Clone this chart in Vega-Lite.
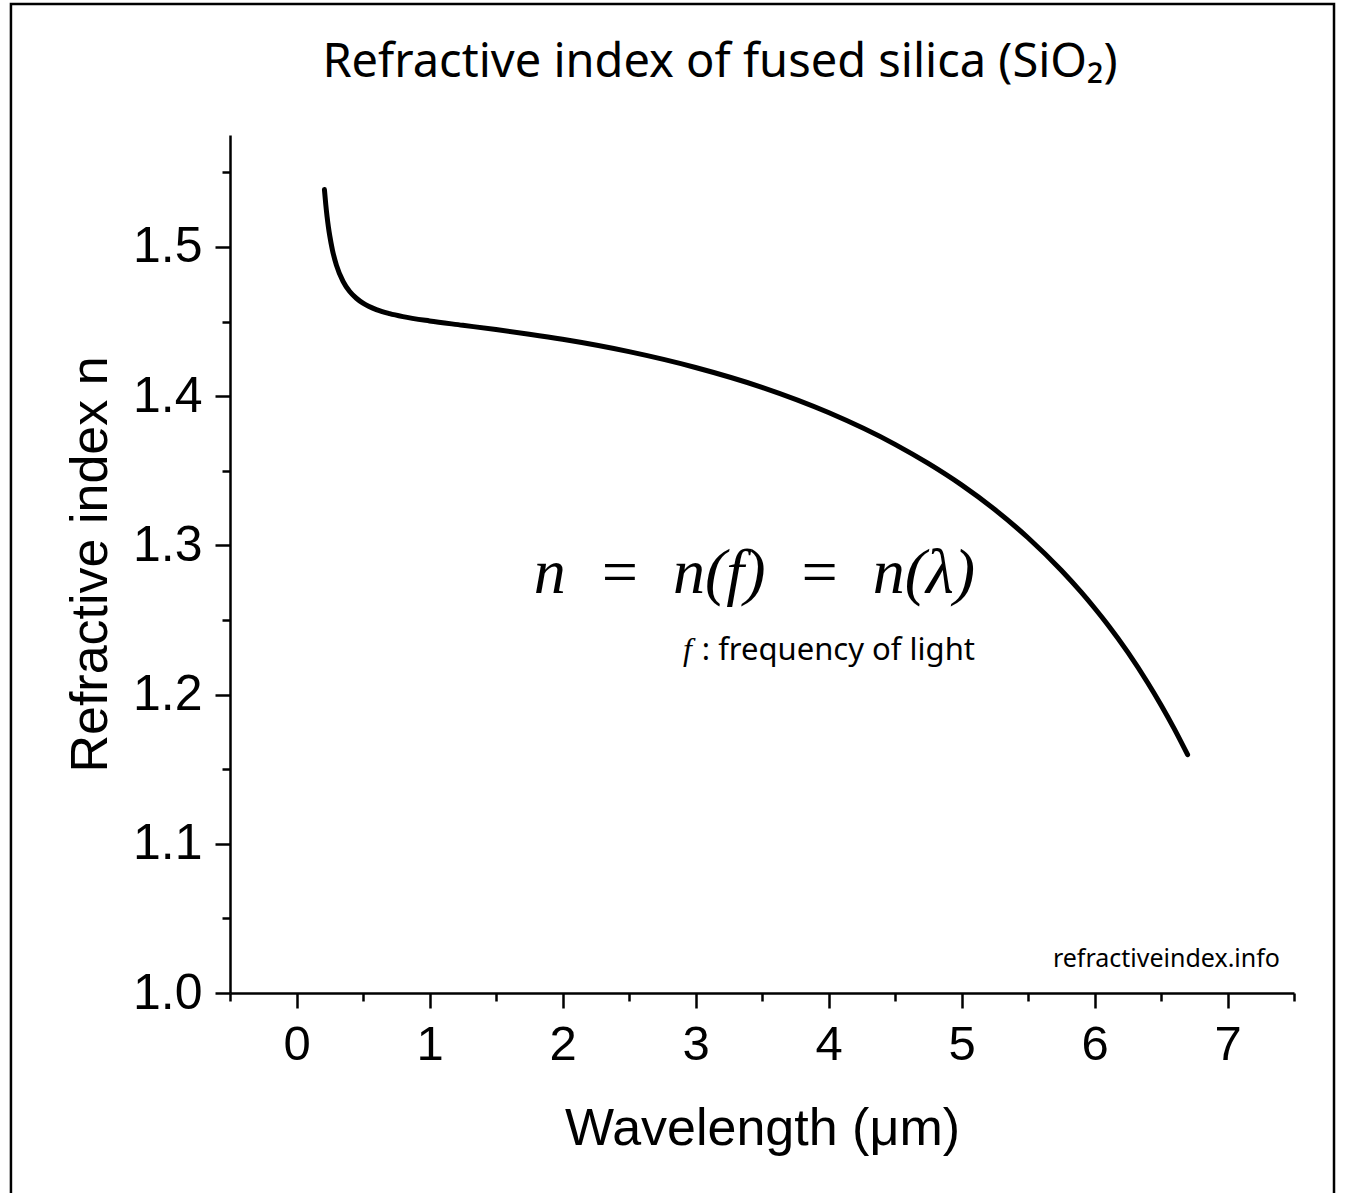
{
  "$schema": "https://vega.github.io/schema/vega-lite/v6.json",
  "width": 1064,
  "height": 858,
  "autosize": {"type": "none"},
  "padding": {"left": 230, "top": 135, "right": 51, "bottom": 200},
  "background": "white",
  "config": {"view": {"stroke": null}},
  "title": {
    "text": "Refractive index of fused silica (SiO₂)",
    "font": "Noto Sans",
    "fontSize": 47,
    "fontWeight": "normal",
    "color": "black",
    "anchor": "middle",
    "dx": -42,
    "offset": -121,
    "baseline": "alphabetic"
  },
  "datasets": {
    "curve": [
      {"wavelength": 0.21, "n": 1.5384},
      {"wavelength": 0.22, "n": 1.5285},
      {"wavelength": 0.23, "n": 1.5202},
      {"wavelength": 0.24, "n": 1.5133},
      {"wavelength": 0.25, "n": 1.5075},
      {"wavelength": 0.27, "n": 1.4980},
      {"wavelength": 0.30, "n": 1.4878},
      {"wavelength": 0.35, "n": 1.4769},
      {"wavelength": 0.40, "n": 1.4701},
      {"wavelength": 0.45, "n": 1.4656},
      {"wavelength": 0.50, "n": 1.4623},
      {"wavelength": 0.60, "n": 1.4580},
      {"wavelength": 0.70, "n": 1.4553},
      {"wavelength": 0.80, "n": 1.4533},
      {"wavelength": 1.00, "n": 1.4504},
      {"wavelength": 1.25, "n": 1.4475},
      {"wavelength": 1.50, "n": 1.4446},
      {"wavelength": 1.75, "n": 1.4415},
      {"wavelength": 2.00, "n": 1.4381},
      {"wavelength": 2.50, "n": 1.4298},
      {"wavelength": 3.00, "n": 1.4192},
      {"wavelength": 3.50, "n": 1.4059},
      {"wavelength": 4.00, "n": 1.3890},
      {"wavelength": 4.50, "n": 1.3677},
      {"wavelength": 4.75, "n": 1.3549},
      {"wavelength": 5.00, "n": 1.3405},
      {"wavelength": 5.25, "n": 1.3240},
      {"wavelength": 5.50, "n": 1.3051},
      {"wavelength": 5.75, "n": 1.2833},
      {"wavelength": 5.90, "n": 1.2686},
      {"wavelength": 6.00, "n": 1.2580},
      {"wavelength": 6.10, "n": 1.2468},
      {"wavelength": 6.25, "n": 1.2284},
      {"wavelength": 6.40, "n": 1.2079},
      {"wavelength": 6.50, "n": 1.1930},
      {"wavelength": 6.60, "n": 1.1770},
      {"wavelength": 6.70, "n": 1.1597}
    ],
    "notes": [
      {"kind": "formula", "wavelength": 5.1015, "n": 1.2681, "label": "n\u2002=\u2002n(f)\u2002=\u2002n(λ)"},
      {"kind": "fsym", "wavelength": 2.906, "n": 1.2232, "label": "f"},
      {"kind": "fdesc", "wavelength": 5.1015, "n": 1.2232, "label": ": frequency of light"},
      {"kind": "source", "wavelength": 7.3947, "n": 1.0174, "label": "refractiveindex.info"}
    ],
    "frame": [
      {"left": -2.147, "right": 7.8008, "top": 1.6628, "bottom": 0.864}
    ]
  },
  "layer": [
    {
      "data": {"name": "frame"},
      "mark": {"type": "rect", "filled": false, "stroke": "black", "strokeWidth": 2.5, "clip": false},
      "encoding": {
        "x": {"field": "left", "type": "quantitative"},
        "x2": {"field": "right"},
        "y": {"field": "top", "type": "quantitative"},
        "y2": {"field": "bottom"}
      }
    },
    {
      "data": {"name": "curve"},
      "mark": {"type": "line", "color": "black", "strokeWidth": 5, "strokeCap": "round", "strokeJoin": "round", "interpolate": "monotone"},
      "encoding": {
        "x": {
          "field": "wavelength",
          "type": "quantitative",
          "scale": {"domain": [-0.5, 7.5], "nice": false, "zero": false},
          "axis": {
            "values": [-0.5, 0, 0.5, 1, 1.5, 2, 2.5, 3, 3.5, 4, 4.5, 5, 5.5, 6, 6.5, 7, 7.5],
            "grid": false,
            "domainColor": "black",
            "domainWidth": 2.5,
            "tickColor": "black",
            "tickWidth": 2.5,
            "tickSize": {"condition": {"test": "datum.value % 1 == 0", "value": 15}, "value": 8},
            "labelExpr": "datum.value % 1 == 0 ? format(datum.value, 'd') : ''",
            "labelFont": "Liberation Sans",
            "labelFontSize": 49,
            "labelColor": "black",
            "labelPadding": 12,
            "labelFlush": false,
            "labelOverlap": false,
            "title": "Wavelength (μm)",
            "titleFont": "Liberation Sans",
            "titleFontSize": 52,
            "titleFontWeight": "normal",
            "titleColor": "black",
            "titlePadding": 34
          }
        },
        "y": {
          "field": "n",
          "type": "quantitative",
          "scale": {"domain": [1.0, 1.575], "nice": false, "zero": false},
          "axis": {
            "values": [1.0, 1.05, 1.1, 1.15, 1.2, 1.25, 1.3, 1.35, 1.4, 1.45, 1.5, 1.55],
            "grid": false,
            "domainColor": "black",
            "domainWidth": 2.5,
            "tickColor": "black",
            "tickWidth": 2.5,
            "tickSize": {"condition": {"test": "abs(datum.value * 10 - round(datum.value * 10)) < 0.01", "value": 15}, "value": 8},
            "labelExpr": "abs(datum.value * 10 - round(datum.value * 10)) < 0.01 ? format(datum.value, '.1f') : ''",
            "labelFont": "Liberation Sans",
            "labelFontSize": 50,
            "labelColor": "black",
            "labelPadding": 13,
            "labelFlush": false,
            "labelOverlap": false,
            "title": "Refractive index n",
            "titleFont": "Liberation Sans",
            "titleFontSize": 52,
            "titleFontWeight": "normal",
            "titleColor": "black",
            "titlePadding": 15
          }
        }
      }
    },
    {
      "data": {"name": "notes"},
      "transform": [{"filter": "datum.kind == 'formula'"}],
      "mark": {"type": "text", "align": "right", "baseline": "alphabetic", "font": "Liberation Serif", "fontStyle": "italic", "fontSize": 64, "color": "black"},
      "encoding": {
        "x": {"field": "wavelength", "type": "quantitative"},
        "y": {"field": "n", "type": "quantitative"},
        "text": {"field": "label"}
      }
    },
    {
      "data": {"name": "notes"},
      "transform": [{"filter": "datum.kind == 'fsym'"}],
      "mark": {"type": "text", "align": "left", "baseline": "alphabetic", "font": "Liberation Serif", "fontStyle": "italic", "fontSize": 32, "color": "black"},
      "encoding": {
        "x": {"field": "wavelength", "type": "quantitative"},
        "y": {"field": "n", "type": "quantitative"},
        "text": {"field": "label"}
      }
    },
    {
      "data": {"name": "notes"},
      "transform": [{"filter": "datum.kind == 'fdesc'"}],
      "mark": {"type": "text", "align": "right", "baseline": "alphabetic", "font": "Noto Sans", "fontSize": 31, "color": "black"},
      "encoding": {
        "x": {"field": "wavelength", "type": "quantitative"},
        "y": {"field": "n", "type": "quantitative"},
        "text": {"field": "label"}
      }
    },
    {
      "data": {"name": "notes"},
      "transform": [{"filter": "datum.kind == 'source'"}],
      "mark": {"type": "text", "align": "right", "baseline": "alphabetic", "font": "Noto Sans", "fontSize": 25, "color": "black"},
      "encoding": {
        "x": {"field": "wavelength", "type": "quantitative"},
        "y": {"field": "n", "type": "quantitative"},
        "text": {"field": "label"}
      }
    }
  ]
}
